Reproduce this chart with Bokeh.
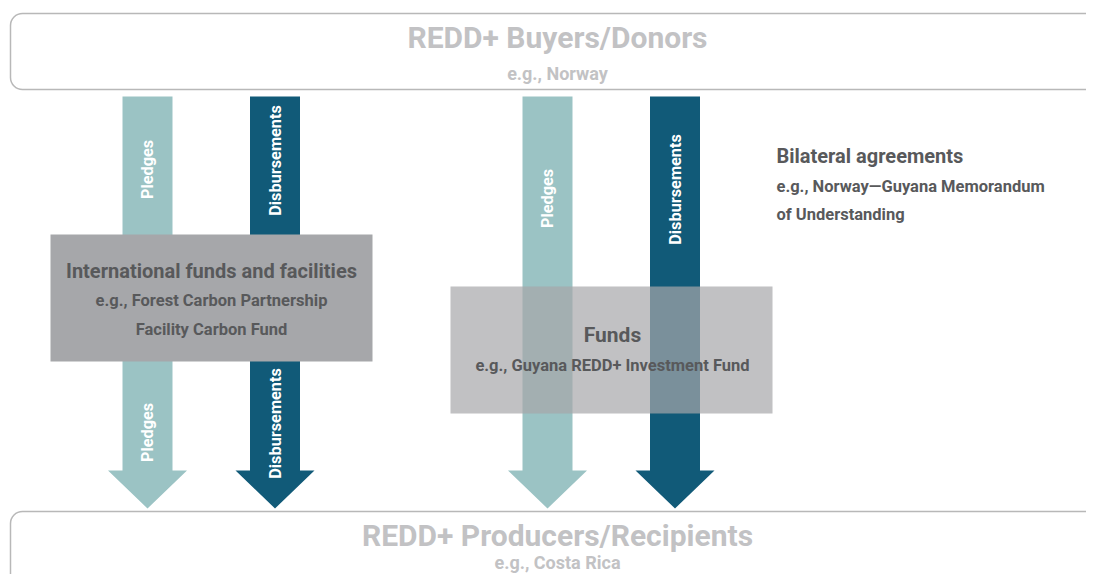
import math
from bokeh.plotting import figure
from bokeh.models import Range1d, BoxAnnotation
from bokeh.core.properties import value
from bokeh.embed import file_html
from bokeh.resources import INLINE

# ---- content ----
box_titles = ["REDD+ Buyers/Donors", "REDD+ Producers/Recipients"]
box_examples = ["e.g., Norway", "e.g., Costa Rica"]
flow_labels = ["Pledges", "Disbursements"]
intl_lines = ["International funds and facilities",
              "e.g., Forest Carbon Partnership", "Facility Carbon Fund"]
fund_lines = ["Funds", "e.g., Guyana REDD+ Investment Fund"]
bilat_lines = ["Bilateral agreements", "e.g., Norway\u2014Guyana Memorandum",
               "of Understanding"]

LIGHT = "#9bc3c4"
DARK = "#115a78"
FONT = value("Roboto")

p = figure(width=1086, height=574, x_range=Range1d(0, 1086), y_range=Range1d(574, 0),
           output_backend="svg", toolbar_location=None, min_border=0)
p.axis.visible = False
p.grid.visible = False
p.outline_line_color = None
p.background_fill_color = "white"
p.border_fill_color = "white"

# outer boxes
for top, bot in [(13, 89), (511, 620)]:
    p.add_layout(BoxAnnotation(left=10, right=1200, top=top, bottom=bot,
                               fill_alpha=0, line_color="#b8b8b8", line_alpha=1,
                               line_width=1.5, border_radius=12))

# arrows
def arrow(cx, top, shaft_end, tip, half_w=25, head_w=39.5):
    xs = [cx - half_w, cx + half_w, cx + half_w, cx + head_w, cx, cx - head_w, cx - half_w]
    ys = [top, top, shaft_end, shaft_end, tip, shaft_end, shaft_end]
    return xs, ys

centers = [147, 274.5, 547, 674.5]
colors = [LIGHT, DARK, LIGHT, DARK]
axs, ays = [], []
for cx in centers:
    xs, ys = arrow(cx, 96, 470, 508)
    axs.append(xs); ays.append(ys)
p.patches(axs, ays, fill_color=colors, line_color=None)

# left opaque box
p.quad(left=[50], right=[372], top=[234], bottom=[361], fill_color="#a6a7aa", line_color=None)
# right translucent box
p.quad(left=[450], right=[772], top=[286], bottom=[413], fill_color="#a6a7aa",
       fill_alpha=0.7, line_color=None)

# rotated arrow labels
lab_x = [147, 274.5, 147, 274.5, 547, 674.5]
lab_y = [169, 160, 432, 423, 198, 189]
lab_t = [flow_labels[0], flow_labels[1], flow_labels[0], flow_labels[1],
         flow_labels[0], flow_labels[1]]
p.text(x=lab_x, y=lab_y, text=lab_t, angle=math.pi / 2, text_align="center",
       text_baseline="middle", text_color="white", text_font=FONT,
       text_font_size="16.3px", text_font_style="bold")

# outer box titles
p.text(x=[557, 557], y=[37, 535], text=box_titles, text_align="center",
       text_baseline="middle", text_color="#c2c2c4", text_font=FONT,
       text_font_size="30px", text_font_style="bold")
p.text(x=[557], y=[73], text=[box_examples[0]], text_align="center",
       text_baseline="middle", text_color="#c2c2c4", text_font=FONT,
       text_font_size="18px", text_font_style="bold")
p.text(x=[557], y=[562], text=[box_examples[1]], text_align="center",
       text_baseline="middle", text_color="#c2c2c4", text_font=FONT,
       text_font_size="18px", text_font_style="bold")

TXT = "#58595b"
p.text(x=[211], y=[270], text=[intl_lines[0]], text_align="center", text_baseline="middle",
       text_color=TXT, text_font=FONT, text_font_size="20px", text_font_style="bold")
p.text(x=[211, 211], y=[300, 329], text=intl_lines[1:], text_align="center",
       text_baseline="middle", text_color=TXT, text_font=FONT, text_font_size="16.5px",
       text_font_style="bold")

p.text(x=[612], y=[334], text=[fund_lines[0]], text_align="center", text_baseline="middle",
       text_color=TXT, text_font=FONT, text_font_size="21px", text_font_style="bold")
p.text(x=[612], y=[365], text=[fund_lines[1]], text_align="center", text_baseline="middle",
       text_color=TXT, text_font=FONT, text_font_size="16.5px", text_font_style="bold")

p.text(x=[776], y=[155], text=[bilat_lines[0]], text_align="left", text_baseline="middle",
       text_color=TXT, text_font=FONT, text_font_size="20px", text_font_style="bold")
p.text(x=[776, 776], y=[186, 214], text=bilat_lines[1:], text_align="left",
       text_baseline="middle", text_color=TXT, text_font=FONT, text_font_size="16.5px",
       text_font_style="bold")

open("out.html", "w").write(file_html(p, INLINE))
